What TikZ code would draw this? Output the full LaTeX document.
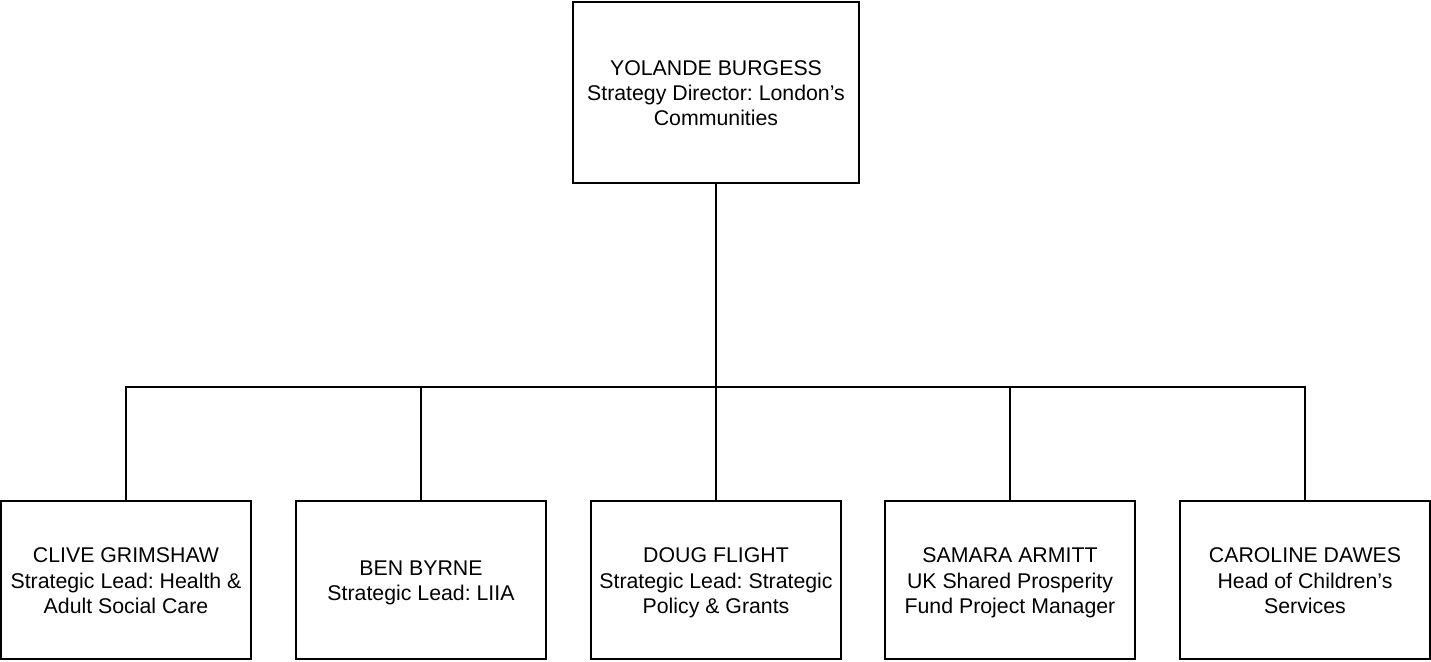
\documentclass[tikz,border=0pt]{standalone}
\usepackage{fontspec}
\setmainfont{Liberation Sans}
\frenchspacing
\newcommand\mytopstrut{\rule{0pt}{23.7pt}}
\begin{document}
\begin{tikzpicture}[x=1pt,y=-1pt,
  box/.style={draw=black,line width=1.7pt,fill=white,minimum width=250pt,minimum height=158pt,inner sep=0pt,align=center,
    font=\fontsize{21.3}{25.3}\selectfont},
  link/.style={draw=black,line width=1.5pt}]
\useasboundingbox (0,0) rectangle (1431,661);
\node[box,minimum width=286pt,minimum height=181pt] (top) at (716,92.5) {\mytopstrut YOLANDE BURGESS\\Strategy Director: London’s\\Communities\strut};
\node[box] (c1) at (126,580) {\mytopstrut CLIVE GRIMSHAW\\Strategic Lead: Health \&\\Adult Social Care\strut};
\node[box] (c2) at (421,580) {\mytopstrut BEN BYRNE\\Strategic Lead: LIIA\strut};
\node[box] (c3) at (716,580) {\mytopstrut DOUG FLIGHT\\Strategic Lead: Strategic\\Policy \& Grants\strut};
\node[box] (c4) at (1010,580) {\mytopstrut SAMARA ARMITT\\UK Shared Prosperity\\Fund Project Manager\strut};
\node[box] (c5) at (1305,580) {\mytopstrut CAROLINE DAWES\\Head of Children’s\\Services\strut};
\coordinate (bus) at (716,387);
\foreach \c in {c1,c2,c3,c4,c5}{
  \draw[link] (top.south) -- (bus) -| (\c.north);
}
\end{tikzpicture}
\end{document}
